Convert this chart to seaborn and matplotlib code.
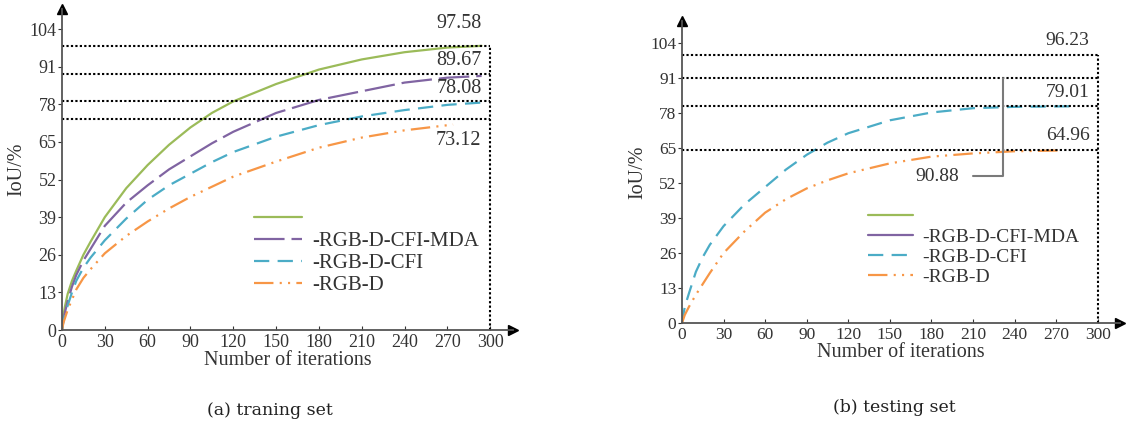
import numpy as np
import pandas as pd
import matplotlib
matplotlib.use("Agg")
import matplotlib.pyplot as plt
import seaborn as sns

sns.set_style("ticks")
plt.rcParams['font.family'] = ['Liberation Serif', 'DejaVu Serif']
plt.rcParams['lines.scale_dashes'] = False

# ---- data ----
labels = [' ', '-RGB-D-CFI-MDA', '-RGB-D-CFI', '-RGB-D']
colors = ['#9bbb59', '#8064a2', '#4bacc6', '#f79646']

# (a) training set
train_x = [0, 1, 2, 4, 7, 10, 15, 20, 30, 45, 60, 75, 90, 105, 120, 150, 180, 210, 240, 270, 294]
train_full = [0, 5, 8, 12.5, 17, 20.5, 26, 30.5, 39, 49, 57, 64, 70, 75, 79, 85, 90, 93.5, 96, 97.6, 98.2]
train_mda = [0, 3.5, 6, 10, 15, 19, 24, 28, 36, 44, 50, 55.5, 60, 64.5, 68.5, 75, 79.5, 82.5, 85.5, 87.2, 87.8]
train_cfi = [0, 3, 5, 8.5, 13, 17, 21.5, 25, 31, 38.5, 45, 50, 54, 58, 61.5, 66.8, 70.8, 73.8, 76, 77.8, 78.6]
train_rgbd_x = [0, 1, 2, 4, 7, 10, 15, 20, 30, 45, 60, 75, 90, 105, 120, 150, 180, 210, 240, 274]
train_rgbd = [0, 2.5, 4, 7, 10.5, 14, 18, 21, 26.5, 32.5, 37.5, 42, 46, 49.5, 53, 58.2, 63, 66.5, 69, 71]
train_levels = [98.3, 88.3, 79.2, 72.9]
train_notes = ['97.58', '89.67', '78.08', '73.12']
train_note_y = [106, 93.3, 83.6, 65.6]

# (b) testing set
test_cfi_x = [0, 2, 5, 10, 15, 20, 30, 45, 60, 75, 90, 105, 120, 150, 180, 210, 240, 282]
test_cfi = [0, 6, 11, 19, 24.5, 29, 36, 44, 50.5, 57, 62.5, 67, 70.5, 75.3, 78.2, 79.8, 80.3, 80.5]
test_rgbd_x = [0, 2, 5, 10, 15, 20, 30, 45, 60, 75, 90, 105, 120, 150, 180, 210, 240, 275]
test_rgbd = [0, 3, 6, 10.5, 14.5, 18.5, 26, 34, 41, 46, 50, 53, 55.6, 59.3, 61.8, 63, 63.8, 64.1]
test_levels = [99.4, 90.9, 80.5, 64.1]
test_notes = ['96.23', '', '79.01', '64.96']
test_note_y = [105, 0, 85.5, 69.5]
bracket_note = '90.88'

xticks = np.arange(0, 301, 30)
yticks = np.arange(0, 105, 13)

styles = ['-', (0, (22, 5)), (0, (11, 6)), (0, (14, 4.5, 1.5, 4.5, 1.5, 4.5))]
dotted = (0, (1.6, 1.6))
ink = '#333333'

fig = plt.figure(figsize=(11.39, 4.23), dpi=100)
ax1 = fig.add_axes([62 / 1139, 93 / 423, 451 / 1139, 321.2 / 423])
ax2 = fig.add_axes([682 / 1139, 100 / 423, 438 / 1139, 301.5 / 423])


def style_axes(ax, ytop, tick_fs):
    ax.set_xlim(0, 316)
    ax.set_ylim(0, ytop)
    sns.despine(ax=ax)
    for s in ['left', 'bottom']:
        ax.spines[s].set_color('#555555')
        ax.spines[s].set_linewidth(1.3)
    ax.plot(1, 0, '>', color='black', ms=7, transform=ax.transAxes, clip_on=False)
    ax.plot(0, 1, '^', color='black', ms=7, transform=ax.transAxes, clip_on=False)
    ax.set_xticks(xticks)
    ax.set_yticks(yticks)
    ax.tick_params(axis='x', direction='in', length=3, pad=3, labelsize=tick_fs,
                   colors=ink)
    ax.tick_params(axis='y', direction='out', length=3, pad=1, labelsize=tick_fs,
                   colors=ink)
    ax.set_xlabel('Number of iterations', fontsize=14.5, color=ink, labelpad=0)
    ax.set_ylabel('IoU/%', fontsize=14.5, color=ink, labelpad=2)


def draw(ax, x, y, i):
    df = pd.DataFrame({'x': x, 'y': y})
    sns.lineplot(data=df, x='x', y='y', ax=ax, color=colors[i], lw=1.6,
                 linestyle=styles[i], label=labels[i], estimator=None, sort=False)


# ---- (a) ----
style_axes(ax1, 111, 13)
draw(ax1, train_x, train_full, 0)
draw(ax1, train_x, train_mda, 1)
draw(ax1, train_x, train_cfi, 2)
draw(ax1, train_rgbd_x, train_rgbd, 3)
for lv in train_levels:
    ax1.plot([0, 300], [lv, lv], color='black', lw=1.5, linestyle=dotted)
ax1.plot([300, 300], [0, train_levels[0]], color='black', lw=1.5, linestyle=dotted)
for t, ty in zip(train_notes, train_note_y):
    ax1.text(294, ty, t, ha='right', va='center', fontsize=14.5, color=ink)

# ---- (b) ----
style_axes(ax2, 112, 12.5)
ax2.plot([], [], color=colors[0], lw=1.6, label=labels[0])
ax2.plot([], [], color=colors[1], lw=1.6, label=labels[1])
draw(ax2, test_cfi_x, test_cfi, 2)
draw(ax2, test_rgbd_x, test_rgbd, 3)
for lv in test_levels:
    ax2.plot([0, 300], [lv, lv], color='black', lw=1.5, linestyle=dotted)
ax2.plot([300, 300], [0, test_levels[0]], color='black', lw=1.5, linestyle=dotted)
for t, ty in zip(test_notes, test_note_y):
    if t:
        ax2.text(294, ty, t, ha='right', va='center', fontsize=14, color=ink)
ax2.plot([210, 231.5, 231.5], [54.6, 54.6, test_levels[1]], color='#7a7a7a', lw=1.5)
ax2.text(200, 54.6, bracket_note, ha='right', va='center', fontsize=14, color=ink)

for ax, fs, anchor in [(ax1, 15, (0.425, 0.375)), (ax2, 14, (0.425, 0.38))]:
    leg = ax.legend(loc='upper left', bbox_to_anchor=anchor, frameon=False,
                    fontsize=fs, handlelength=2.3, handletextpad=0.5,
                    labelspacing=0.12, borderpad=0, borderaxespad=0)
    for t in leg.get_texts():
        t.set_color(ink)

fig.text(270 / 1139, 1 - 410 / 423, '(a) traning set', ha='center', va='center',
         fontsize=12.5, family='DejaVu Serif', color='#222222')
fig.text(894 / 1139, 1 - 407 / 423, '(b) testing set', ha='center', va='center',
         fontsize=12.5, family='DejaVu Serif', color='#222222')

fig.savefig('out.png', dpi=100)
